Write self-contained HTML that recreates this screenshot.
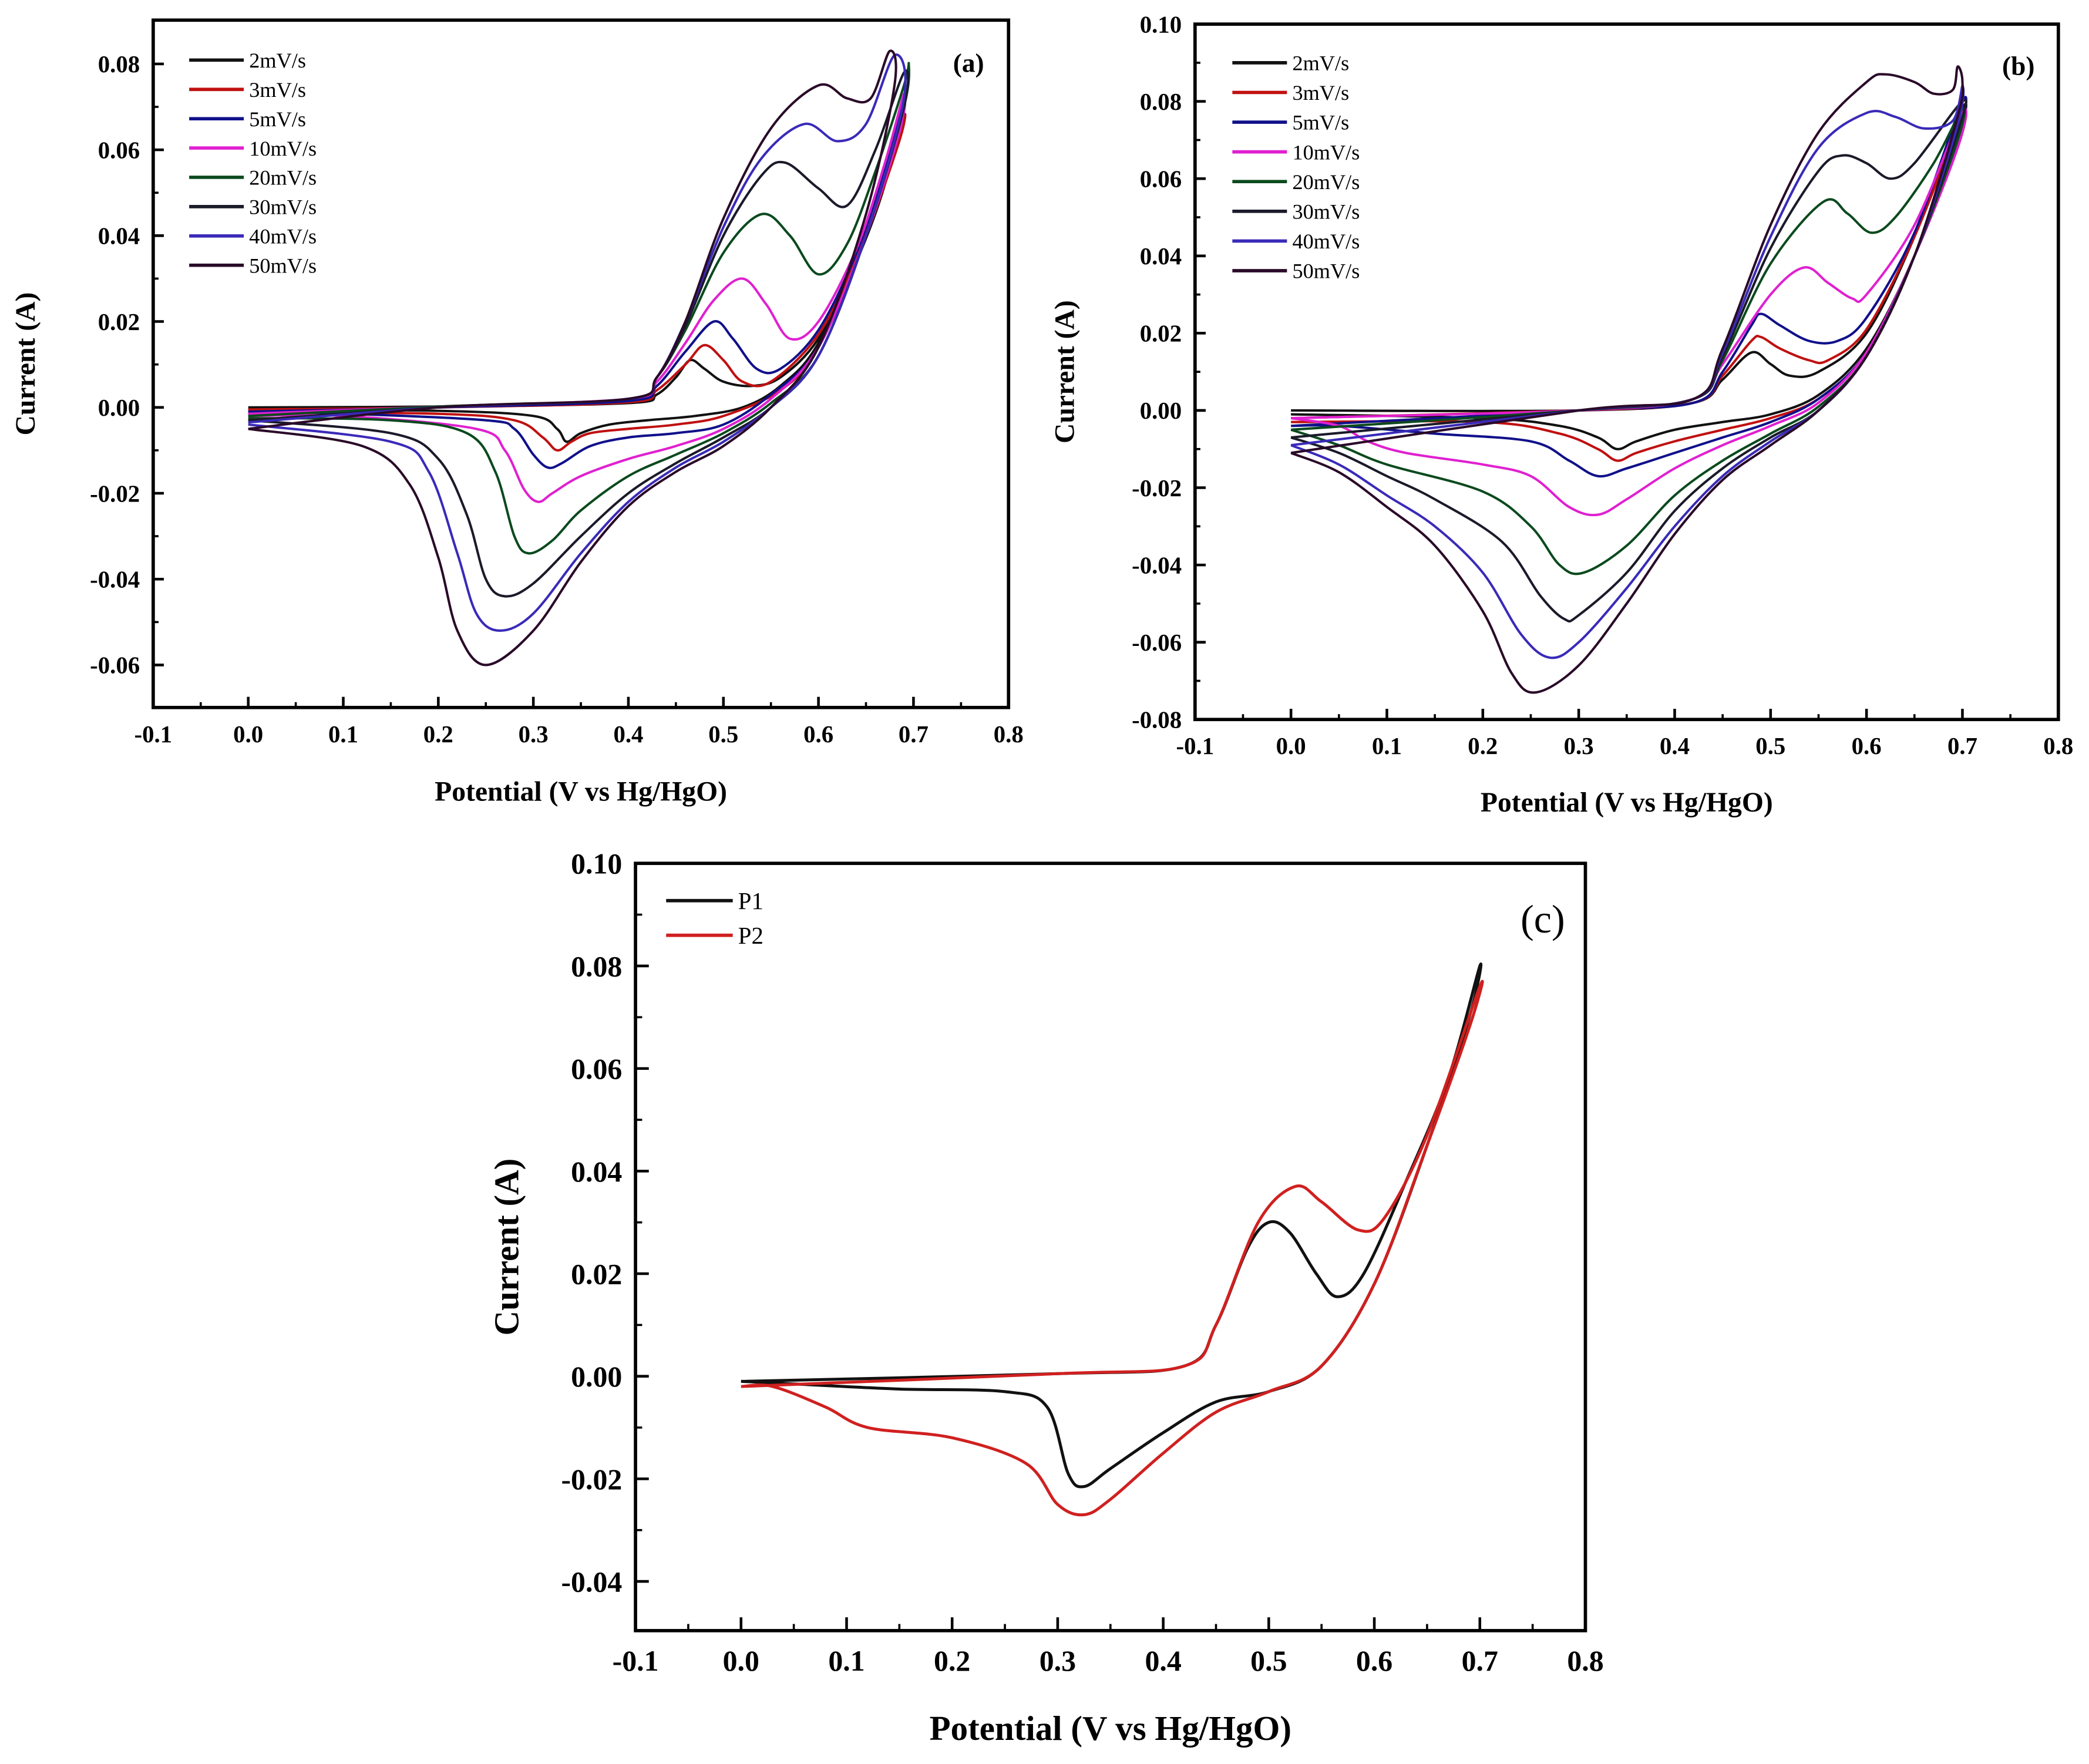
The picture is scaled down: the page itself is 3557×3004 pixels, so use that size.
<!DOCTYPE html>
<html><head><meta charset="utf-8"><style>
html,body{margin:0;padding:0;background:#fff;}
svg{display:block;}
text{font-family:"Liberation Serif",serif;}
</style></head><body>
<svg id="fig" xmlns="http://www.w3.org/2000/svg" width="3557" height="3004" viewBox="0 0 1568 1324">
<rect width="1568" height="1324" fill="#fff"/>
</svg>
<script>
// ---- Panel (a) data: [potential V, current A] loops ----
const a2=[[0,0],[0.2,0.0002],[0.4,0.001],[0.43,0.003],[0.45,0.007],[0.465,0.011],[0.48,0.009],[0.5,0.006],[0.53,0.005],[0.56,0.007],[0.6,0.016],[0.64,0.034],[0.67,0.052],[0.685,0.068],[0.68,0.06],[0.65,0.04],[0.6,0.015],[0.56,0.005],[0.52,0.0],[0.47,-0.002],[0.42,-0.003],[0.38,-0.004],[0.35,-0.006],[0.335,-0.008],[0.325,-0.005],[0.3,-0.002],[0.2,-0.0008],[0,-0.0005]];
const a3=[[0,-0.0005],[0.2,0],[0.4,0.0012],[0.43,0.004],[0.46,0.010],[0.48,0.0145],[0.5,0.011],[0.52,0.006],[0.55,0.006],[0.6,0.017],[0.64,0.035],[0.67,0.054],[0.69,0.068],[0.685,0.062],[0.65,0.04],[0.6,0.014],[0.56,0.004],[0.5,-0.002],[0.45,-0.004],[0.4,-0.005],[0.36,-0.006],[0.34,-0.008],[0.325,-0.010],[0.31,-0.007],[0.28,-0.003],[0.2,-0.0015],[0,-0.001]];
const a5=[[0,-0.001],[0.2,0],[0.4,0.0015],[0.43,0.005],[0.46,0.013],[0.49,0.020],[0.51,0.016],[0.535,0.009],[0.56,0.009],[0.6,0.018],[0.64,0.036],[0.67,0.056],[0.69,0.072],[0.685,0.064],[0.65,0.04],[0.6,0.014],[0.55,0.003],[0.5,-0.004],[0.45,-0.006],[0.4,-0.007],[0.36,-0.009],[0.33,-0.013],[0.315,-0.014],[0.3,-0.011],[0.28,-0.005],[0.25,-0.003],[0.1,-0.0015],[0,-0.0015]];
const a10=[[0,-0.0015],[0.2,0.0002],[0.4,0.002],[0.43,0.006],[0.46,0.015],[0.49,0.025],[0.52,0.030],[0.545,0.024],[0.57,0.016],[0.6,0.02],[0.64,0.037],[0.67,0.057],[0.69,0.073],[0.685,0.064],[0.65,0.04],[0.6,0.014],[0.55,0.002],[0.5,-0.005],[0.45,-0.009],[0.4,-0.012],[0.35,-0.016],[0.32,-0.020],[0.305,-0.022],[0.29,-0.019],[0.27,-0.010],[0.24,-0.005],[0.1,-0.002],[0,-0.002]];
const a20=[[0,-0.002],[0.2,0.0002],[0.4,0.002],[0.43,0.007],[0.46,0.018],[0.5,0.036],[0.54,0.045],[0.57,0.040],[0.6,0.031],[0.63,0.038],[0.66,0.055],[0.69,0.075],[0.695,0.080],[0.69,0.07],[0.65,0.04],[0.6,0.012],[0.55,0.001],[0.5,-0.006],[0.45,-0.011],[0.4,-0.016],[0.35,-0.024],[0.32,-0.031],[0.295,-0.034],[0.28,-0.030],[0.26,-0.015],[0.23,-0.006],[0.15,-0.003],[0,-0.0025]];
const a30=[[0,-0.003],[0.2,0],[0.4,0.002],[0.43,0.007],[0.46,0.019],[0.5,0.040],[0.54,0.054],[0.565,0.057],[0.6,0.051],[0.63,0.047],[0.66,0.06],[0.69,0.078],[0.69,0.07],[0.65,0.04],[0.6,0.012],[0.55,0.0],[0.5,-0.007],[0.45,-0.013],[0.4,-0.020],[0.35,-0.030],[0.3,-0.041],[0.27,-0.044],[0.25,-0.040],[0.23,-0.025],[0.2,-0.012],[0.15,-0.006],[0,-0.003]];
const a40=[[0,-0.0035],[0.2,0],[0.4,0.002],[0.43,0.007],[0.46,0.02],[0.5,0.042],[0.54,0.058],[0.585,0.066],[0.62,0.062],[0.65,0.066],[0.68,0.082],[0.69,0.072],[0.65,0.04],[0.6,0.012],[0.55,0],[0.5,-0.008],[0.45,-0.014],[0.4,-0.022],[0.35,-0.034],[0.3,-0.048],[0.265,-0.052],[0.24,-0.048],[0.22,-0.034],[0.19,-0.015],[0.15,-0.008],[0,-0.004]];
const a50=[[0,-0.005],[0.2,0],[0.4,0.002],[0.43,0.007],[0.46,0.02],[0.5,0.044],[0.55,0.065],[0.6,0.075],[0.63,0.072],[0.655,0.072],[0.675,0.083],[0.68,0.075],[0.65,0.045],[0.6,0.014],[0.55,0],[0.5,-0.009],[0.45,-0.015],[0.4,-0.023],[0.35,-0.036],[0.3,-0.052],[0.25,-0.060],[0.22,-0.052],[0.2,-0.035],[0.17,-0.018],[0.12,-0.009],[0,-0.005]];
// ---- Panel (b) data ----
const b2=[[0,0],[0.3,0],[0.42,0.002],[0.45,0.008],[0.48,0.015],[0.5,0.012],[0.52,0.009],[0.55,0.01],[0.6,0.02],[0.65,0.045],[0.7,0.078],[0.695,0.07],[0.65,0.04],[0.6,0.016],[0.55,0.004],[0.5,-0.001],[0.45,-0.003],[0.4,-0.005],[0.36,-0.008],[0.34,-0.010],[0.32,-0.007],[0.28,-0.004],[0.2,-0.002],[0,-0.001]];
const b3=[[0,-0.002],[0.3,0],[0.42,0.002],[0.45,0.009],[0.48,0.018],[0.49,0.019],[0.51,0.016],[0.54,0.013],[0.56,0.013],[0.6,0.021],[0.65,0.045],[0.7,0.076],[0.695,0.068],[0.65,0.04],[0.6,0.015],[0.55,0.003],[0.5,-0.002],[0.45,-0.005],[0.4,-0.008],[0.36,-0.011],[0.34,-0.013],[0.32,-0.010],[0.28,-0.006],[0.2,-0.003],[0,-0.003]];
const b5=[[0,-0.004],[0.3,0],[0.42,0.002],[0.45,0.01],[0.48,0.022],[0.49,0.025],[0.51,0.022],[0.54,0.018],[0.57,0.018],[0.6,0.024],[0.65,0.046],[0.7,0.08],[0.695,0.07],[0.65,0.04],[0.6,0.015],[0.55,0.003],[0.5,-0.003],[0.45,-0.007],[0.4,-0.011],[0.35,-0.015],[0.32,-0.017],[0.29,-0.013],[0.25,-0.008],[0.15,-0.006],[0.05,-0.004],[0,-0.004]];
const b10=[[0,-0.002],[0.3,0],[0.42,0.003],[0.45,0.012],[0.5,0.03],[0.535,0.037],[0.56,0.033],[0.585,0.029],[0.6,0.03],[0.65,0.048],[0.7,0.077],[0.695,0.068],[0.65,0.04],[0.6,0.015],[0.55,0.002],[0.5,-0.004],[0.45,-0.009],[0.4,-0.015],[0.35,-0.023],[0.32,-0.027],[0.29,-0.025],[0.25,-0.017],[0.2,-0.014],[0.12,-0.011],[0.08,-0.008],[0.05,-0.004],[0,-0.002]];
const b20=[[0,-0.005],[0.3,0],[0.42,0.003],[0.45,0.013],[0.5,0.038],[0.555,0.054],[0.58,0.051],[0.605,0.046],[0.63,0.05],[0.67,0.064],[0.7,0.078],[0.695,0.07],[0.65,0.04],[0.6,0.014],[0.55,0.001],[0.5,-0.006],[0.45,-0.013],[0.4,-0.022],[0.35,-0.035],[0.305,-0.042],[0.28,-0.040],[0.25,-0.030],[0.2,-0.021],[0.1,-0.014],[0.05,-0.009],[0,-0.005]];
const b30=[[0,-0.007],[0.3,0],[0.42,0.003],[0.45,0.014],[0.5,0.042],[0.55,0.062],[0.575,0.066],[0.6,0.064],[0.625,0.06],[0.65,0.064],[0.7,0.08],[0.695,0.072],[0.65,0.04],[0.6,0.014],[0.55,0],[0.5,-0.007],[0.45,-0.015],[0.4,-0.026],[0.35,-0.042],[0.3,-0.053],[0.285,-0.054],[0.26,-0.048],[0.22,-0.034],[0.15,-0.023],[0.1,-0.017],[0.05,-0.011],[0,-0.007]];
const b40=[[0,-0.009],[0.3,0],[0.42,0.003],[0.45,0.015],[0.5,0.045],[0.55,0.068],[0.6,0.077],[0.63,0.076],[0.66,0.073],[0.69,0.075],[0.7,0.084],[0.695,0.074],[0.65,0.04],[0.6,0.014],[0.55,0],[0.5,-0.008],[0.45,-0.017],[0.4,-0.03],[0.35,-0.046],[0.3,-0.060],[0.27,-0.064],[0.24,-0.058],[0.2,-0.042],[0.15,-0.030],[0.1,-0.022],[0.05,-0.014],[0,-0.009]];
const b50=[[0,-0.011],[0.3,0],[0.42,0.003],[0.45,0.016],[0.5,0.048],[0.55,0.072],[0.6,0.085],[0.62,0.087],[0.65,0.085],[0.67,0.082],[0.69,0.083],[0.695,0.089],[0.7,0.085],[0.695,0.076],[0.65,0.04],[0.6,0.014],[0.55,0],[0.5,-0.009],[0.45,-0.018],[0.4,-0.032],[0.35,-0.05],[0.3,-0.066],[0.255,-0.073],[0.23,-0.068],[0.2,-0.052],[0.15,-0.035],[0.1,-0.025],[0.05,-0.016],[0,-0.011]];
// ---- Panel (c) data ----
const cP1=[[0,-0.001],[0.3,0.0005],[0.42,0.002],[0.45,0.01],[0.48,0.025],[0.5,0.030],[0.52,0.028],[0.545,0.02],[0.565,0.0155],[0.59,0.02],[0.63,0.038],[0.67,0.058],[0.7,0.08],[0.69,0.07],[0.65,0.045],[0.6,0.018],[0.55,0.002],[0.5,-0.003],[0.45,-0.005],[0.4,-0.011],[0.35,-0.018],[0.325,-0.0215],[0.31,-0.019],[0.29,-0.006],[0.25,-0.003],[0.15,-0.0025],[0.05,-0.0015],[0,-0.001]];
const cP2=[[0,-0.002],[0.3,0.0005],[0.42,0.002],[0.45,0.01],[0.49,0.03],[0.525,0.037],[0.55,0.034],[0.585,0.0285],[0.61,0.031],[0.65,0.047],[0.7,0.076],[0.69,0.068],[0.65,0.045],[0.6,0.018],[0.55,0.002],[0.5,-0.003],[0.45,-0.007],[0.4,-0.015],[0.35,-0.024],[0.325,-0.027],[0.3,-0.025],[0.27,-0.017],[0.2,-0.012],[0.12,-0.010],[0.08,-0.006],[0.03,-0.002],[0,-0.002]];
const rateLabels=["2mV/s","3mV/s","5mV/s","10mV/s","20mV/s","30mV/s","40mV/s","50mV/s"];
const xTicks=[-0.1,0.0,0.1,0.2,0.3,0.4,0.5,0.6,0.7,0.8];
const yTicksA=[-0.06,-0.04,-0.02,0.00,0.02,0.04,0.06,0.08];
const yTicksB=[-0.08,-0.06,-0.04,-0.02,0.00,0.02,0.04,0.06,0.08,0.10];
const yTicksC=[-0.04,-0.02,0.00,0.02,0.04,0.06,0.08,0.10];

const NS="http://www.w3.org/2000/svg";
const svg=document.getElementById('fig');
const colors=["#111","#c01010","#10108a","#e020d0","#0b4a1e","#1a1a2a","#3a2ab8","#2a0a28"];
function mk(tag,attrs,parent){const e=document.createElementNS(NS,tag);for(const k in attrs)e.setAttribute(k,attrs[k]);(parent||svg).appendChild(e);return e;}
function smooth(pts){let d=`M${pts[0][0].toFixed(2)},${pts[0][1].toFixed(2)}`;
 for(let i=0;i<pts.length-1;i++){const p0=pts[Math.max(0,i-1)],p1=pts[i],p2=pts[i+1],p3=pts[Math.min(pts.length-1,i+2)];
 const c1=[p1[0]+(p2[0]-p0[0])/6,p1[1]+(p2[1]-p0[1])/6],c2=[p2[0]-(p3[0]-p1[0])/6,p2[1]-(p3[1]-p1[1])/6];
 d+=`C${c1[0].toFixed(2)},${c1[1].toFixed(2)} ${c2[0].toFixed(2)},${c2[1].toFixed(2)} ${p2[0].toFixed(2)},${p2[1].toFixed(2)}`;}return d;}

function panel(cfg){
 const g=mk('g',{});
 
 
 const {L,R,T,B,xmin,xmax,ymin,ymax}=cfg;
 const sx=v=>L+(v-xmin)/(xmax-xmin)*(R-L), sy=v=>B-(v-ymin)/(ymax-ymin)*(B-T);
 const tg=mk('g',{},g);
 
 
 xTicks.forEach((v,i)=>{const x=sx(v);
  mk('line',{x1:x,x2:x,y1:B,y2:B-cfg.tl,stroke:'#000','stroke-width':2},tg);
  if(i<xTicks.length-1){const xm=sx(v+0.05);mk('line',{x1:xm,x2:xm,y1:B,y2:B-cfg.tl/2,stroke:'#000','stroke-width':1.6},tg);}
  const t=mk('text',{x:x,y:B+cfg.fs+8,'text-anchor':'middle','font-size':cfg.fs,'font-weight':'bold'},tg);t.textContent=v.toFixed(1);
  
  
 });
 cfg.yt.forEach((v,i)=>{const y=sy(v);
  mk('line',{x1:L,x2:L+cfg.tl,y1:y,y2:y,stroke:'#000','stroke-width':2},tg);
  if(i<cfg.yt.length-1){const ym=sy(v+0.01);mk('line',{x1:L,x2:L+cfg.tl/2,y1:ym,y2:ym,stroke:'#000','stroke-width':1.6},tg);}
  const t=mk('text',{x:L-10,y:y+cfg.fs*0.35,'text-anchor':'end','font-size':cfg.fs,'font-weight':'bold'},tg);t.textContent=v.toFixed(2);
  
  
 });
 cfg.series.forEach((s,i)=>{
  const p=mk('path',{d:smooth(s.data.map(d=>[sx(d[0]),sy(d[1])])),fill:'none',stroke:s.color,'stroke-width':cfg.sw,'stroke-linejoin':'round'},g);
  
  
  const ly=cfg.leg.y+i*cfg.leg.dy;
  const ll=mk('line',{x1:cfg.leg.x,x2:cfg.leg.x+cfg.leg.w,y1:ly,y2:ly,stroke:s.color,'stroke-width':2.5},g);
  
  
  const lt=mk('text',{x:cfg.leg.x+cfg.leg.w+4,y:ly+cfg.leg.fs*0.35,'font-size':cfg.leg.fs},g);lt.textContent=s.label;
  
  
 });
 const box=mk('rect',{x:L,y:T,width:R-L,height:B-T,fill:'none',stroke:'#000','stroke-width':2.5},g);
 
 
 const xt=mk('text',{x:(L+R)/2,y:cfg.xty,'text-anchor':'middle','font-size':cfg.tfs,'font-weight':'bold'},g);xt.textContent='Potential (V vs Hg/HgO)';
 
 
 const yt=mk('text',{x:0,y:0,'text-anchor':'middle','font-size':cfg.tfs,'font-weight':'bold',transform:`translate(${cfg.ytx},${(T+B)/2}) rotate(-90)`},g);yt.textContent='Current (A)';
 
 
 const pl=mk('text',{x:cfg.pl.x,y:cfg.pl.y,'text-anchor':'middle','font-size':cfg.pl.fs,'font-weight':cfg.pl.w},g);pl.textContent=cfg.pl.t;
 
 
}
const aData=[a2,a3,a5,a10,a20,a30,a40,a50], bData=[b2,b3,b5,b10,b20,b30,b40,b50];
panel({name:'panel-a',L:115,R:757,T:15,B:531,xmin:-0.1,xmax:0.8,ymin:-0.0699,ymax:0.0902,yt:yTicksA,tl:8,fs:18,sw:1.8,tfs:21,xty:601,ytx:26,
 series:aData.map((d,i)=>({data:d,color:colors[i],label:rateLabels[i]})),
 leg:{x:142,y:45,dy:22,w:41,fs:16},pl:{x:727,y:54,fs:20,w:'bold',t:'(a)'}});
panel({name:'panel-b',L:897,R:1545,T:18,B:540,xmin:-0.1,xmax:0.8,ymin:-0.08,ymax:0.10,yt:yTicksB,tl:8,fs:18,sw:1.8,tfs:21,xty:609,ytx:806,
 series:bData.map((d,i)=>({data:d,color:colors[i],label:rateLabels[i]})),
 leg:{x:925,y:47,dy:22.3,w:41,fs:16},pl:{x:1515,y:56,fs:20,w:'bold',t:'(b)'}});
panel({name:'panel-c',L:477,R:1190,T:648,B:1224,xmin:-0.1,xmax:0.8,ymin:-0.0496,ymax:0.10,yt:yTicksC,tl:10,fs:22,sw:2.2,tfs:26,xty:1306,ytx:389,
 series:[{data:cP1,color:'#111',label:'P1'},{data:cP2,color:'#d02020',label:'P2'}],
 leg:{x:500,y:676,dy:26,w:50,fs:18},pl:{x:1158,y:700,fs:30,w:'normal',t:'(c)'}});
</script>
</body></html>
